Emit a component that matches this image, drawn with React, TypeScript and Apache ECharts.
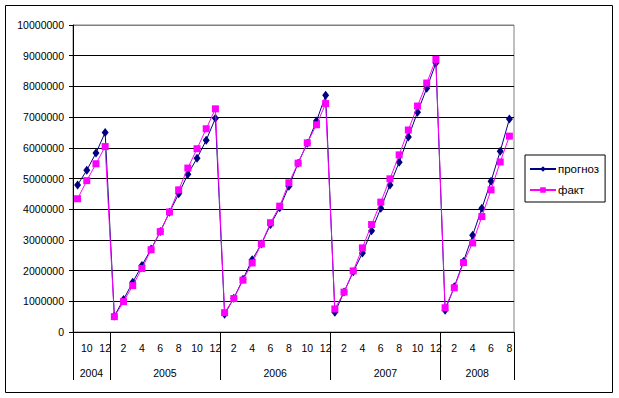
import React, { useEffect, useRef } from "react";
import * as echarts from "echarts";

const years = ["2004", "2005", "2006", "2007", "2008"];
const firstMonth = [9, 1, 1, 1, 1];
const lastMonth = [12, 12, 12, 12, 8];

const forecast = [
  4790000, 5270000, 5830000, 6500000,
  520000, 1060000, 1620000, 2170000, 2700000, 3270000, 3900000, 4500000, 5140000, 5660000, 6250000, 6960000,
  580000, 1100000, 1720000, 2350000, 2870000, 3500000, 4050000, 4750000, 5500000, 6150000, 6870000, 7710000,
  640000, 1300000, 1960000, 2570000, 3300000, 4030000, 4790000, 5530000, 6350000, 7160000, 7940000, 8760000,
  710000, 1470000, 2300000, 3150000, 4030000, 4910000, 5890000, 6940000,
];

const fact = [
  4340000, 4930000, 5480000, 6040000,
  500000, 990000, 1510000, 2070000, 2680000, 3270000, 3910000, 4630000, 5340000, 5970000, 6620000, 7270000,
  630000, 1090000, 1690000, 2250000, 2870000, 3560000, 4100000, 4860000, 5500000, 6160000, 6750000, 7440000,
  750000, 1300000, 1990000, 2740000, 3500000, 4230000, 4990000, 5770000, 6580000, 7360000, 8110000, 8880000,
  790000, 1440000, 2260000, 2900000, 3760000, 4630000, 5540000, 6380000,
];

const seriesNames = ["прогноз", "факт"];
const yMin = 0;
const yMax = 10000000;
const yStep = 1000000;

export default function App() {
  const ref = useRef<HTMLDivElement>(null);

  useEffect(() => {
    if (!ref.current) return;
    const chart = echarts.init(ref.current, null, { renderer: "svg" });

    const monthCats: string[] = [];
    const boundaries: number[] = [0];
    const mids: number[] = [];
    years.forEach((y, i) => {
      const start = monthCats.length;
      for (let m = firstMonth[i]; m <= lastMonth[i]; m++) monthCats.push(String(m));
      const end = monthCats.length;
      boundaries.push(end);
      mids.push((start + end) / 2);
    });
    const yearCats: string[] = [];
    for (let i = 0; i <= monthCats.length; i++) {
      const k = mids.indexOf(i);
      yearCats.push(k >= 0 ? years[k] : "");
    }

    const font = "Arial, 'Liberation Sans', sans-serif";
    const gridLineColors: string[] = [];
    const nLines = Math.round((yMax - yMin) / yStep) + 1;
    for (let i = 0; i < nLines; i++) gridLineColors.push(i === nLines - 1 ? "#808080" : "#000000");

    chart.setOption({
      animation: false,
      backgroundColor: "#ffffff",
      textStyle: { fontFamily: font, color: "#000" },
      grid: {
        left: 73,
        right: 105,
        top: 25,
        bottom: 66,
        show: true,
        borderColor: "#808080",
        borderWidth: 1,
        backgroundColor: "#ffffff",
      },
      graphic: [
        {
          type: "rect",
          shape: { x: 5.5, y: 5.5, width: 607, height: 387 },
          style: { fill: "none", stroke: "#000", lineWidth: 1 },
          silent: true,
          z: -1,
        },
      ],
      legend: {
        orient: "vertical",
        left: 525,
        top: 155,
        padding: [8, 6, 6, 4],
        itemGap: 9,
        itemWidth: 26,
        itemHeight: 7,
        borderColor: "#000",
        borderWidth: 1,
        backgroundColor: "#fff",
        textStyle: { fontFamily: font, fontSize: 11.5, color: "#000", padding: [0, 0, 0, -3] },
        data: seriesNames,
      },
      xAxis: [
        {
          type: "category",
          data: monthCats,
          boundaryGap: true,
          axisLine: { lineStyle: { color: "#000", width: 1 } },
          axisTick: { interval: 0, length: 23, lineStyle: { color: "#000" } },
          axisLabel: {
            interval: (_i: number, v: string) => Number(v) % 2 === 0,
            fontSize: 10.5,
            fontFamily: font,
            color: "#000",
            margin: 10,
          },
          splitLine: { show: false },
        },
        {
          type: "category",
          data: yearCats,
          boundaryGap: false,
          position: "bottom",
          axisLine: { show: false },
          axisTick: {
            interval: (i: number) => boundaries.indexOf(i) >= 0,
            length: 48,
            lineStyle: { color: "#000" },
          },
          axisLabel: {
            interval: (i: number) => mids.indexOf(i) >= 0,
            fontSize: 10.5,
            fontFamily: font,
            color: "#000",
            margin: 35,
          },
          splitLine: { show: false },
        },
      ],
      yAxis: {
        type: "value",
        min: yMin,
        max: yMax,
        interval: yStep,
        axisLine: { show: true, lineStyle: { color: "#000" } },
        axisTick: { show: true, length: 4, lineStyle: { color: "#000" } },
        axisLabel: {
          formatter: (v: number) => String(v),
          fontSize: 10.5,
          fontFamily: font,
          color: "#000",
          margin: 9,
        },
        splitLine: { show: true, lineStyle: { color: gridLineColors, width: 1 } },
      },
      series: [
        {
          name: seriesNames[0],
          type: "line",
          xAxisIndex: 0,
          data: forecast,
          symbol: "diamond",
          symbolSize: [7, 9],
          showAllSymbol: true,
          itemStyle: { color: "#000080" },
          lineStyle: { color: "#000080", width: 1 },
          z: 2,
        },
        {
          name: seriesNames[1],
          type: "line",
          xAxisIndex: 0,
          data: fact,
          symbol: "rect",
          symbolSize: 7,
          showAllSymbol: true,
          itemStyle: { color: "#ff00ff" },
          lineStyle: { color: "#ff00ff", width: 1 },
          z: 3,
        },
      ],
    });

    return () => chart.dispose();
  }, []);

  return (
    <div
      ref={ref}
      style={{ position: "fixed", left: 0, top: 0, width: 619, height: 398 }}
    />
  );
}
